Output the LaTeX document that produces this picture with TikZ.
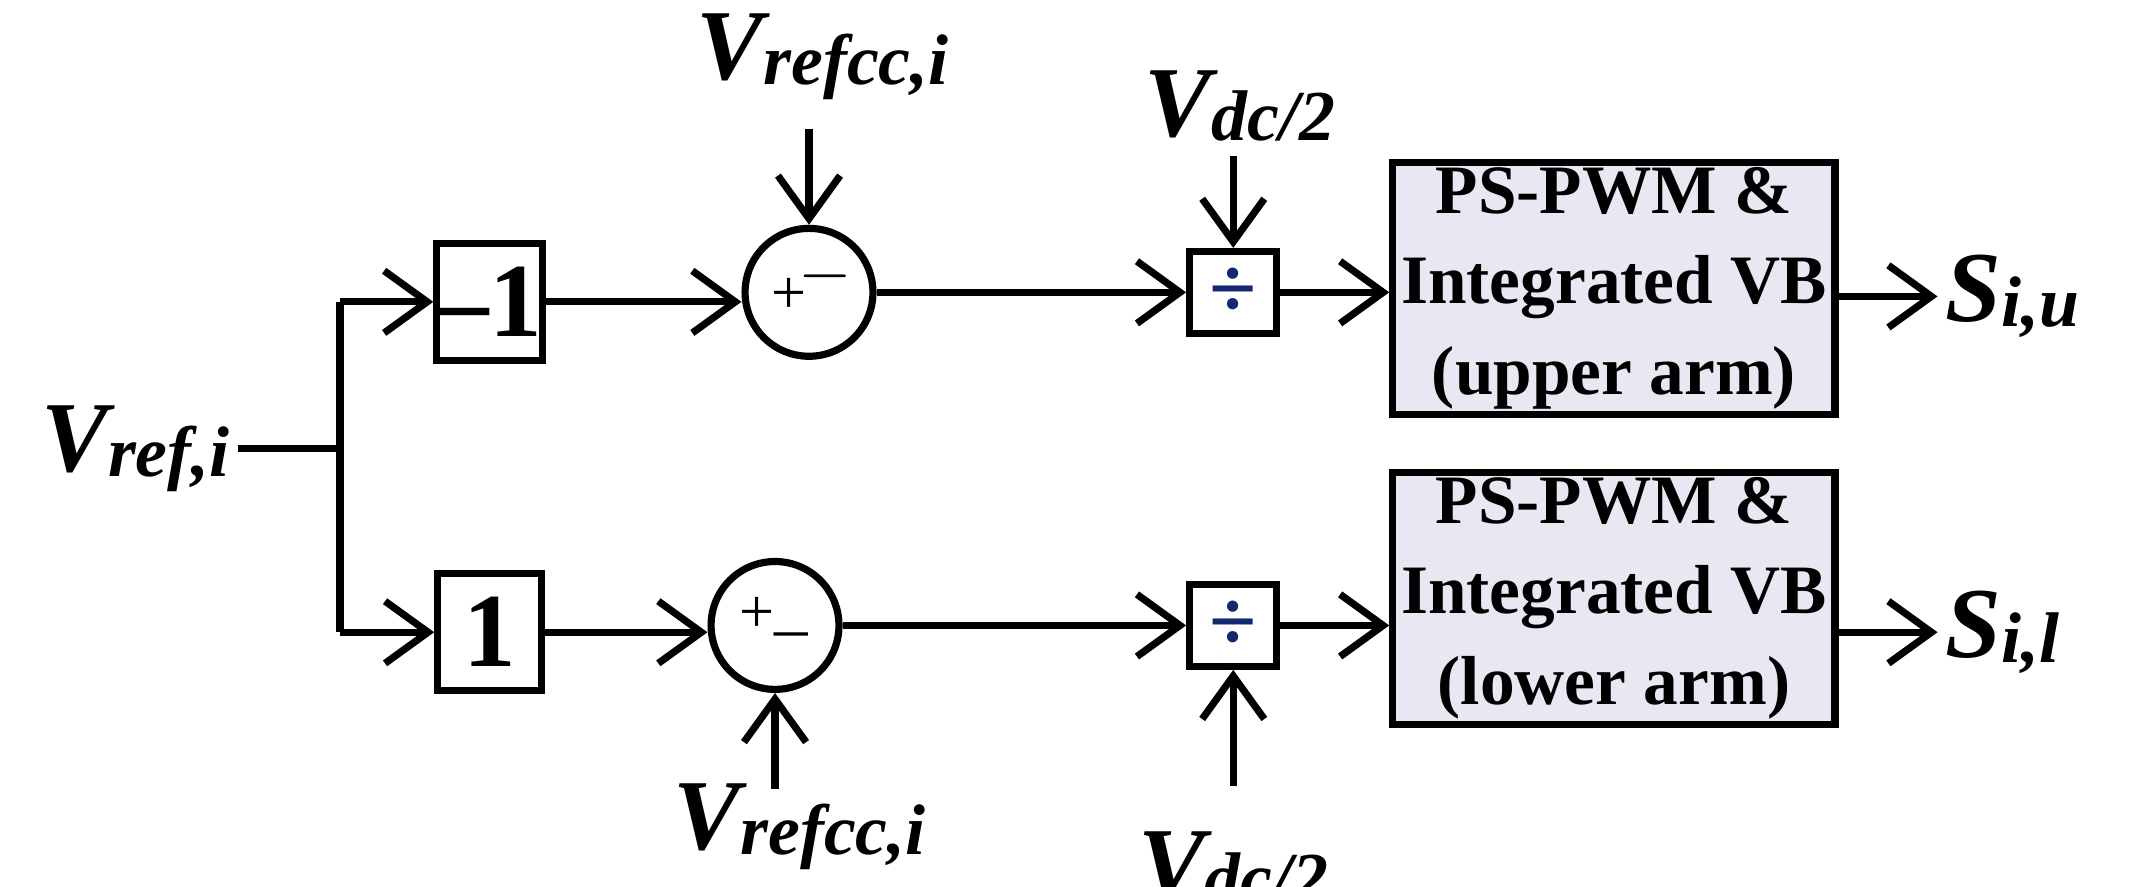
\documentclass[tikz,border=0pt]{standalone}
\usepackage{fontspec}
\setmainfont{Liberation Serif}
\usetikzlibrary{arrows.meta}
\definecolor{boxfill}{RGB}{232,232,242}
\definecolor{divc}{RGB}{20,40,110}
\begin{document}
\begin{tikzpicture}[x=0.01cm,y=-0.01cm,
  line width=1.5pt,
  arr/.style={-{Straight Barb[length=9pt,width=13pt,line width=1.5pt]}},
  blk/.style={draw,minimum width=0.76cm,minimum height=0.86cm,inner sep=0pt,font=\fontsize{22}{24}\selectfont\bfseries},
  dv/.style={draw,minimum width=0.64cm,minimum height=0.6cm,inner sep=0pt,font=\fontsize{18}{20}\selectfont\bfseries,text=divc},
  sm/.style={draw,circle,minimum size=0.94cm,inner sep=0pt},
  pw/.style={draw,fill=boxfill,minimum width=3.25cm,minimum height=1.85cm,align=center,inner sep=0pt,font=\fontsize{14.5}{19}\selectfont\bfseries},
  lab/.style={font=\bfseries\itshape,inner sep=1pt}]
\useasboundingbox (0,0) rectangle (1568,652);
\newcommand{\vv}[2]{{\fontsize{21}{22}\selectfont #1}{\fontsize{15}{16}\selectfont\raisebox{-1pt}{#2}}}
\node[lab,anchor=east] (vin) at (175,330) {\vv{V}{ref,i}};
\coordinate (j) at (250,330);
\node[blk] (m1) at (360,222) {–1};
\node[blk] (p1) at (360,465) {1};
\node[sm] (s1) at (595,215) {};
\node[sm] (s2) at (570,460) {};
\node[font=\fontsize{13}{13}\selectfont] at (580,218) {+};
\node[font=\fontsize{14}{14}\selectfont] at (607,203) {$-$};
\node[font=\fontsize{13}{13}\selectfont] at (557,452) {+};
\node[font=\fontsize{14}{14}\selectfont] at (582,465) {\_};
\node[dv] (d1) at (907,215) {÷};
\node[dv] (d2) at (907,460) {÷};
\node[pw] (b1) at (1187,212) {PS-PWM \&\\Integrated VB\\(upper arm)};
\node[pw] (b2) at (1187,440) {PS-PWM \&\\Integrated VB\\(lower arm)};
\node[lab] (r1) at (605,42) {\vv{V}{refcc,i}};
\node[lab] (r2) at (588,608) {\vv{V}{refcc,i}};
\node[lab] (v1) at (912,78) {\vv{V}{dc/2}};
\node[lab] (v2) at (907,638) {\vv{V}{dc/2}};
\node[lab,anchor=west] (o1) at (1425,218) {\vv{S}{i,u}};
\node[lab,anchor=west] (o2) at (1425,465) {\vv{S}{i,l}};
\coordinate (ju) at (250,222);
\coordinate (jl) at (250,465);
\draw (vin.east) -- (j);
\draw (ju) -- (jl);
\draw[arr] (ju) -- (m1.west);
\draw[arr] (jl) -- (p1.west);
\draw[arr] (m1.east) -- (m1.east -| s1.west);
\draw[arr] (p1.east) -- (p1.east -| s2.west);
\draw[arr] (s1.east) -- (d1.west);
\draw[arr] (s2.east) -- (d2.west);
\draw[arr] (d1.east) -- (d1.east -| b1.west);
\draw[arr] (d2.east) -- (d2.east -| b2.west);
\draw[arr] (b1.east |- o1) -- (o1.west);
\draw[arr] (b2.east |- o2) -- (o2.west);
\draw[arr] (s1.north |- 0,95) -- (s1.north);
\draw[arr] (s2.south |- 0,580) -- (s2.south);
\draw[arr] (d1.north |- 0,115) -- (d1.north);
\draw[arr] (d2.south |- 0,578) -- (d2.south);
\end{tikzpicture}
\end{document}
